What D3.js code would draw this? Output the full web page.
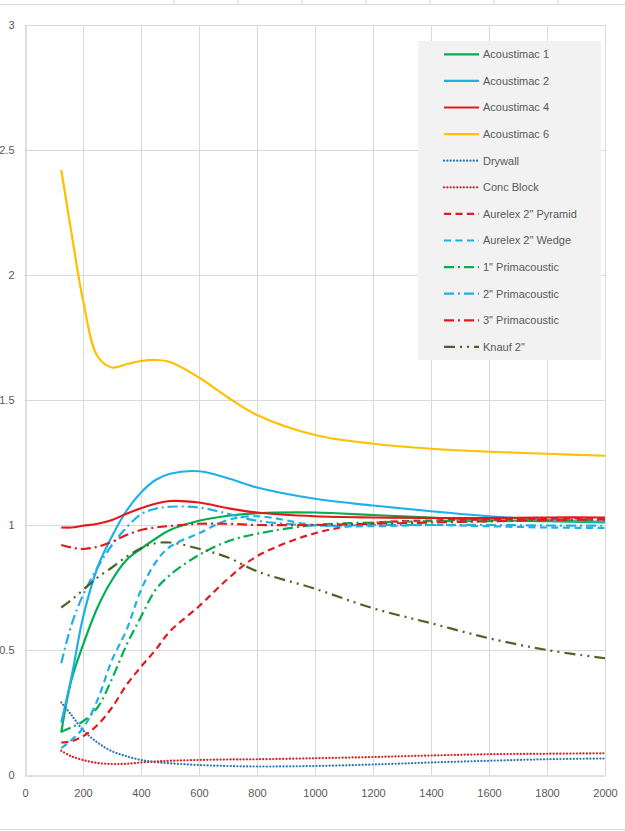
<!DOCTYPE html>
<html lang="en">
<head>
<meta charset="UTF-8">
<title>Absorption</title>
<script src="https://d3js.org/d3.v7.min.js"></script>
<style>
  body { margin: 0; background: #fff; }
  svg text { font-family: "Liberation Sans", Arial, sans-serif; font-size: 11px; fill: #595959; }
</style>
</head>
<body>
<svg id="chart"></svg>
<script>
const width = 625, height = 831;

// frequencies (Hz) sampled along every curve
const freqs = [125, 160, 200, 250, 300, 350, 400, 450, 500, 600, 700, 800, 1000, 1200, 1400, 1600, 1800, 2000];

const acoustimac1 = [0.17, 0.38, 0.52, 0.67, 0.78, 0.86, 0.905, 0.945, 0.98, 1.017, 1.037, 1.047, 1.05, 1.04, 1.03, 1.02, 1.015, 1.01];
const acoustimac2 = [0.21, 0.39, 0.63, 0.83, 0.955, 1.057, 1.13, 1.18, 1.205, 1.215, 1.187, 1.15, 1.105, 1.078, 1.055, 1.035, 1.02, 1.013];
const acoustimac4 = [0.99, 0.99, 0.997, 1.005, 1.02, 1.045, 1.067, 1.085, 1.096, 1.09, 1.067, 1.05, 1.035, 1.03, 1.028, 1.028, 1.03, 1.03];
const acoustimac6 = [2.42, 2.17, 1.90, 1.675, 1.63, 1.643, 1.656, 1.66, 1.652, 1.59, 1.51, 1.44, 1.36, 1.325, 1.305, 1.293, 1.285, 1.277];
const drywall = [0.29, 0.24, 0.18, 0.13, 0.095, 0.075, 0.06, 0.052, 0.047, 0.04, 0.036, 0.034, 0.036, 0.042, 0.05, 0.057, 0.063, 0.066];
const concBlock = [0.097, 0.075, 0.06, 0.048, 0.044, 0.045, 0.05, 0.054, 0.057, 0.06, 0.062, 0.063, 0.067, 0.072, 0.078, 0.083, 0.085, 0.087];
const aurelexPyramid = [0.13, 0.135, 0.155, 0.2, 0.27, 0.36, 0.433, 0.5, 0.575, 0.675, 0.785, 0.875, 0.967, 1.008, 1.018, 1.022, 1.025, 1.027];
const aurelexWedge = [0.107, 0.14, 0.187, 0.30, 0.46, 0.58, 0.74, 0.85, 0.913, 0.967, 1.02, 1.035, 1.0, 0.995, 1.0, 0.995, 0.99, 0.988];
const prima1 = [0.173, 0.19, 0.215, 0.27, 0.385, 0.52, 0.633, 0.74, 0.80, 0.88, 0.935, 0.965, 1.0, 1.01, 1.015, 1.015, 1.018, 1.02];
const prima2 = [0.447, 0.60, 0.72, 0.83, 0.92, 0.99, 1.043, 1.065, 1.073, 1.07, 1.045, 1.017, 0.998, 1.0, 1.0, 1.0, 0.998, 0.997];
const prima3 = [0.92, 0.91, 0.904, 0.913, 0.933, 0.96, 0.98, 0.99, 0.996, 1.005, 1.005, 1.0, 1.0, 1.005, 1.01, 1.015, 1.02, 1.022];
const knauf = [0.67, 0.70, 0.74, 0.79, 0.83, 0.873, 0.907, 0.927, 0.93, 0.905, 0.87, 0.815, 0.745, 0.667, 0.607, 0.547, 0.50, 0.467];

const names = ["Acoustimac 1", "Acoustimac 2", "Acoustimac 4", "Acoustimac 6", "Drywall", "Conc Block",
  "Aurelex 2\" Pyramid", "Aurelex 2\"  Wedge", "1\" Primacoustic", "2\" Primacoustic", "3\" Primacoustic", "Knauf 2\""];
const values = [acoustimac1, acoustimac2, acoustimac4, acoustimac6, drywall, concBlock,
  aurelexPyramid, aurelexWedge, prima1, prima2, prima3, knauf];

const xTicks = d3.range(0, 2001, 200);
const yTicks = [0, 0.5, 1, 1.5, 2, 2.5, 3];

// line styles
const green = "#00b050", cyan = "#1fb0ea", red = "#e3191c", yellow = "#ffc000", blue = "#2e75b6", olive = "#4f6228";
const styles = [
  { color: green, dash: null },
  { color: cyan, dash: null },
  { color: red, dash: null },
  { color: yellow, dash: null },
  { color: blue, dash: "0.1,3.2", cap: "round" },
  { color: red, dash: "0.1,3.2", cap: "round" },
  { color: red, dash: "7,4.5" },
  { color: cyan, dash: "7,4.5" },
  { color: green, dash: "10,4,2,4" },
  { color: cyan, dash: "10,4,2,4" },
  { color: red, dash: "10,4,2,4" },
  { color: olive, dash: "11,5,2,5,2,5" }
];

const svg = d3.select("#chart").attr("width", width).attr("height", height);

// spreadsheet borders behind the chart
svg.append("line").attr("x1", 0).attr("x2", width).attr("y1", 4.5).attr("y2", 4.5).attr("stroke", "#d9d9d9");
[174, 238, 302, 366, 430, 494, 558].forEach(x => {
  svg.append("line").attr("x1", x).attr("x2", x).attr("y1", 0).attr("y2", 4.5).attr("stroke", "#d9d9d9");
});
svg.append("line").attr("x1", 0).attr("x2", width).attr("y1", 829.5).attr("y2", 829.5).attr("stroke", "#d9d9d9");

const x = d3.scaleLinear().domain([0, 2000]).range([25, 605]);
const y = d3.scaleLinear().domain([0, 3]).range([775, 25]);

// grid
svg.append("g").selectAll("line").data(xTicks.slice(1)).join("line")
  .attr("x1", d => x(d) + 0.5).attr("x2", d => x(d) + 0.5)
  .attr("y1", y(3)).attr("y2", y(0))
  .attr("stroke", "#d9d9d9");
svg.append("g").selectAll("line").data(yTicks.slice(1)).join("line")
  .attr("x1", x(0)).attr("x2", x(2000))
  .attr("y1", d => y(d) + 0.5).attr("y2", d => y(d) + 0.5)
  .attr("stroke", "#d9d9d9");

// axes
const xAxis = svg.append("g").attr("transform", `translate(0,${y(0) + 0.5})`)
  .call(d3.axisBottom(x).tickValues(xTicks).tickSize(0).tickPadding(14).tickFormat(d3.format("d")));
xAxis.select(".domain").attr("stroke", "#bfbfbf");
xAxis.selectAll("text").attr("fill", "#595959").style("font-size", "11px");

const yAxis = svg.append("g").attr("transform", `translate(${x(0) + 0.5},0)`)
  .call(d3.axisLeft(y).tickValues(yTicks).tickSize(0).tickPadding(11).tickFormat(d => d));
yAxis.select(".domain").attr("stroke", "#bfbfbf");
yAxis.selectAll("text").attr("fill", "#595959").style("font-size", "11px");
svg.selectAll(".tick text").style("font-family", "\"Liberation Sans\", Arial, sans-serif");

// series
const line = d3.line()
  .x((d, i) => x(freqs[i]))
  .y(d => y(d))
  .curve(d3.curveCatmullRom.alpha(0.5));

values.forEach((vals, i) => {
  const s = styles[i];
  svg.append("path")
    .attr("d", line(vals))
    .attr("fill", "none")
    .attr("stroke", s.color)
    .attr("stroke-width", 2.2)
    .attr("stroke-linecap", s.cap || "butt")
    .attr("stroke-dasharray", s.dash);
});

// legend
const legend = svg.append("g");
legend.append("rect").attr("x", 418).attr("y", 41).attr("width", 183).attr("height", 319).attr("fill", "#f2f2f2");
names.forEach((name, i) => {
  const s = styles[i];
  const ly = 54.3 + i * 26.6;
  legend.append("line")
    .attr("x1", 444).attr("x2", 479).attr("y1", ly).attr("y2", ly)
    .attr("stroke", s.color).attr("stroke-width", 2.2)
    .attr("stroke-linecap", s.cap || "butt")
    .attr("stroke-dasharray", s.dash);
  legend.append("text").attr("x", 483).attr("y", ly).attr("dy", "0.35em").text(name);
});
</script>
</body>
</html>
